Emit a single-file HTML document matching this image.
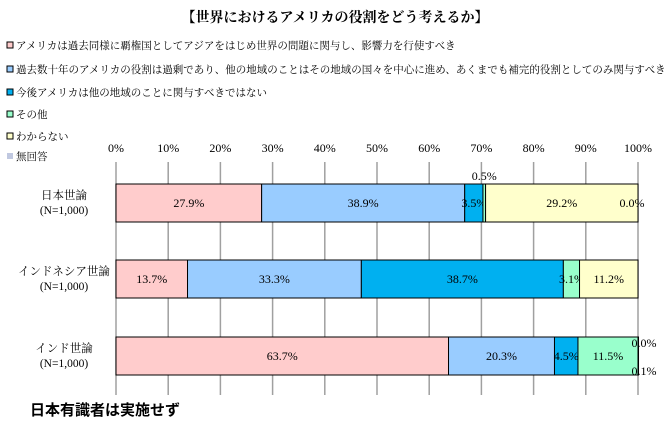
<!DOCTYPE html>
<html><head><meta charset="utf-8"><style>
body{margin:0;background:#fff;font-family:"Liberation Serif","Noto Serif CJK SC","Noto Sans CJK JP",serif;}
#wrap{position:relative;width:670px;height:428px;overflow:hidden;}
</style></head><body>
<div id="wrap">
<svg id="svg" width="670" height="428" xmlns="http://www.w3.org/2000/svg"></svg>
</div>
<script>
const categories = ["日本世論|(N=1,000)", "インドネシア世論|(N=1,000)", "インド世論|(N=1,000)"];
const seriesNames = ["アメリカは過去同様に覇権国としてアジアをはじめ世界の問題に関与し、影響力を行使すべき","過去数十年のアメリカの役割は過剰であり、他の地域のことはその地域の国々を中心に進め、あくまでも補完的役割としてのみ関与すべき","今後アメリカは他の地域のことに関与すべきではない","その他","わからない","無回答"];
const japan = [27.9, 38.9, 3.5, 0.5, 29.2, 0.0];
const indonesia = [13.7, 33.3, 38.7, 3.1, 11.2, 0.0];
const india = [63.7, 20.3, 4.5, 11.5, 0.0, 0.1];
const tickLabels = ["0%","10%","20%","30%","40%","50%","60%","70%","80%","90%","100%"];
const colors = ["#ffcccc","#99ccff","#00b0f0","#99ffcc","#ffffcc","#c0c8e0"];
const svg = document.getElementById('svg');
const NS = "http://www.w3.org/2000/svg";
function mk(tag, attrs, name, parent){const e=document.createElementNS(NS,tag);for(const k in attrs)e.setAttribute(k,attrs[k]);


(parent||svg).appendChild(e);return e;}
const X0=116, X1=638;
const xs = v => X0 + (X1-X0)*v/100;
const rowY = [184, 260, 337], BH = 38;
let t=mk('text',{x:335,y:22,'text-anchor':'middle','font-size':14,'font-weight':'bold'},'chart-title');t.textContent="【世界におけるアメリカの役割をどう考えるか】";
const legY=[49,73,96,118,140,160];
seriesNames.forEach((n,i)=>{
 mk('rect',{x:7,y:legY[i]-7,width:6,height:6,fill:colors[i],stroke:i==5?'none':'#000','stroke-width':1},'legend-swatch-'+i);
 let l=mk('text',{x:16,y:legY[i],'font-size':10.5,fill:'#000'},'legend-entry-'+i);l.textContent=n;
});
tickLabels.forEach((s,i)=>{
 const x=xs(i*10);
 mk('line',{x1:x,y1:162,x2:x,y2:395,stroke:'#a0a0a0','stroke-width':1.5},'gridline-'+i);
 let tt=mk('text',{x:x,y:152,'text-anchor':'middle','font-size':12},'x-tick-label');tt.textContent=s;
});
const data=[japan,indonesia,india];
data.forEach((vals,r)=>{
 let acc=0; const y=rowY[r];
 const [a,b]=categories[r].split('|');
 let c1=mk('text',{x:64,y:y+BH/2-4,'text-anchor':'middle','font-size':11.5},'category-label');c1.textContent=a;
 let c2=mk('text',{x:64,y:y+BH/2+11,'text-anchor':'middle','font-size':11.5},'category-label');c2.textContent=b;
 vals.forEach((v,i)=>{
  const x=xs(acc), w=xs(acc+v)-x;
  mk('rect',{x:x,y:y,width:Math.max(w,0),height:BH,fill:colors[i],stroke:'#000','stroke-width':1},'bar-'+r+'-'+i);
  let cx=x+w/2, cy=y+BH/2+4;
  if(r==0&&i==3){cy=y-4;}
  if(r==0&&i==5){cx=X1-6;}
  if(r==2&&i==4){cx=X1+6;cy=y+10;}
  if(r==2&&i==5){cx=X1+6;cy=y+BH;}
  if(!(r==1&&v==0)){
   let lb=mk('text',{x:cx,y:cy,'text-anchor':'middle','font-size':12},'value-label');lb.textContent=v.toFixed(1)+"%";
  }
  acc+=v;
 });
});
let ft=mk('text',{x:30,y:415,'font-size':15,'font-weight':'bold','font-family':'"Liberation Sans","Noto Sans CJK JP",sans-serif'},'footnote');ft.textContent="日本有識者は実施せず";
</script>
</body></html>
